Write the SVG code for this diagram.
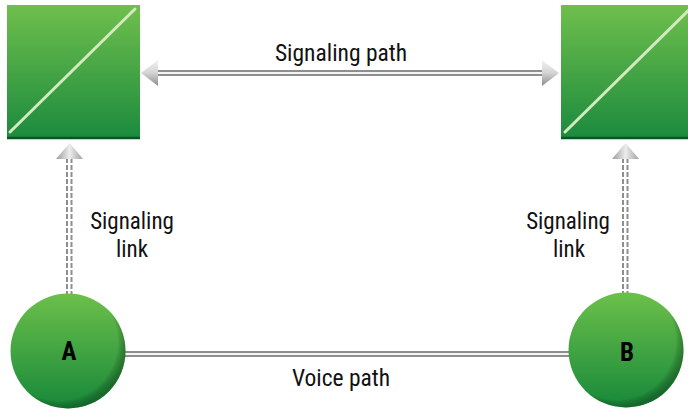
<svg xmlns="http://www.w3.org/2000/svg" width="688" height="411" viewBox="0 0 688 411">
  <defs>
    <linearGradient id="gSq" x1="0" y1="0" x2="0" y2="1">
      <stop offset="0" stop-color="#6fbf4c"/>
      <stop offset="1" stop-color="#1b8a3e"/>
    </linearGradient>
    <linearGradient id="gCirc" x1="0" y1="0" x2="0" y2="1">
      <stop offset="0" stop-color="#6cc04a"/>
      <stop offset="1" stop-color="#17883a"/>
    </linearGradient>
    <radialGradient id="gRim" cx="0.42" cy="0.42" r="0.6">
      <stop offset="0.85" stop-color="#000" stop-opacity="0"/>
      <stop offset="1" stop-color="#0a3a14" stop-opacity="0.45"/>
    </radialGradient>
    <linearGradient id="gArrH" x1="0" y1="0" x2="0" y2="1">
      <stop offset="0" stop-color="#f2f2f2"/>
      <stop offset="0.5" stop-color="#d4d4d4"/>
      <stop offset="1" stop-color="#8c8c8c"/>
    </linearGradient>
    <linearGradient id="gArrV" x1="0" y1="0" x2="1" y2="0">
      <stop offset="0" stop-color="#9a9a9a"/>
      <stop offset="0.5" stop-color="#ececec"/>
      <stop offset="1" stop-color="#a0a0a0"/>
    </linearGradient>
  </defs>
  <style>
    .sq { fill: url(#gSq); }
    .sqedge { stroke: #0e5423; stroke-width: 2.5; }
    .diag { stroke: #d3eabf; stroke-width: 3; stroke-linecap: round; }
    .circ { fill: url(#gCirc); }
    .rim { fill: url(#gRim); }
    .pathOuter { stroke: #8e8e8e; stroke-width: 6; fill: none; }
    .pathInner { stroke: #f4f4f4; stroke-width: 2; fill: none; }
    .dash { stroke: #8e8e8e; stroke-width: 2; stroke-dasharray: 5 2; fill: none; }
    .lbl { font-family: "Liberation Sans Narrow", "Roboto Condensed", "Liberation Sans", sans-serif; font-size: 23.5px; fill: #111; text-anchor: middle; }
    .lbl2 { font-family: "Liberation Sans Narrow", "Roboto Condensed", "Liberation Sans", sans-serif; font-size: 23px; fill: #111; text-anchor: middle; }
    .nlbl { font-family: "Liberation Sans Narrow", "Roboto Condensed", "Liberation Sans", sans-serif; font-size: 25px; font-weight: bold; fill: #000; text-anchor: middle; }
  </style>

  <g id="connectors">
    <line class="pathOuter" x1="155" y1="73" x2="545" y2="73"/>
    <line class="pathInner" x1="155" y1="73" x2="545" y2="73"/>
    <polygon points="141,73 158,60 158,86" fill="url(#gArrH)"/>
    <polygon points="559,73 542,60 542,86" fill="url(#gArrH)"/>
    <line class="pathOuter" x1="124" y1="354" x2="570" y2="354"/>
    <line class="pathInner" x1="124" y1="354" x2="570" y2="354"/>
    <line class="dash" x1="67" y1="158" x2="67" y2="295"/>
    <line class="dash" x1="71.5" y1="158" x2="71.5" y2="295"/>
    <polygon points="69.5,143 56,159 83,159" fill="url(#gArrV)"/>
    <line class="dash" x1="623" y1="158" x2="623" y2="293"/>
    <line class="dash" x1="627.5" y1="158" x2="627.5" y2="293"/>
    <polygon points="625.5,143 612,159 639,159" fill="url(#gArrV)"/>
  </g>

  <g id="stp-left">
    <rect class="sq" x="7" y="5" width="133" height="134"/>
    <line class="sqedge" x1="7" y1="138" x2="140" y2="138"/>
    <line class="diag" x1="10" y1="132" x2="135" y2="9"/>
  </g>

  <g id="stp-right">
    <rect class="sq" x="561" y="5" width="133" height="134"/>
    <line class="sqedge" x1="561" y1="138" x2="694" y2="138"/>
    <line class="diag" x1="565" y1="132" x2="690" y2="9"/>
  </g>

  <g id="node-a">
    <circle class="circ" cx="68" cy="351" r="57.5"/>
    <circle class="rim" cx="68" cy="351" r="57.5"/>
    <text class="nlbl" x="69" y="360">A</text>
  </g>

  <g id="node-b">
    <circle class="circ" cx="626" cy="350" r="57.5"/>
    <circle class="rim" cx="626" cy="350" r="57.5"/>
    <text class="nlbl" x="627" y="361">B</text>
  </g>

  <g id="labels">
    <text class="lbl" x="341" y="61">Signaling path</text>
    <text class="lbl" x="341" y="386">Voice path</text>
    <text class="lbl2" x="132" y="229">Signaling</text>
    <text class="lbl2" x="132" y="256.5">link</text>
    <text class="lbl2" x="568" y="229">Signaling</text>
    <text class="lbl2" x="569" y="256.5">link</text>
  </g>
</svg>
